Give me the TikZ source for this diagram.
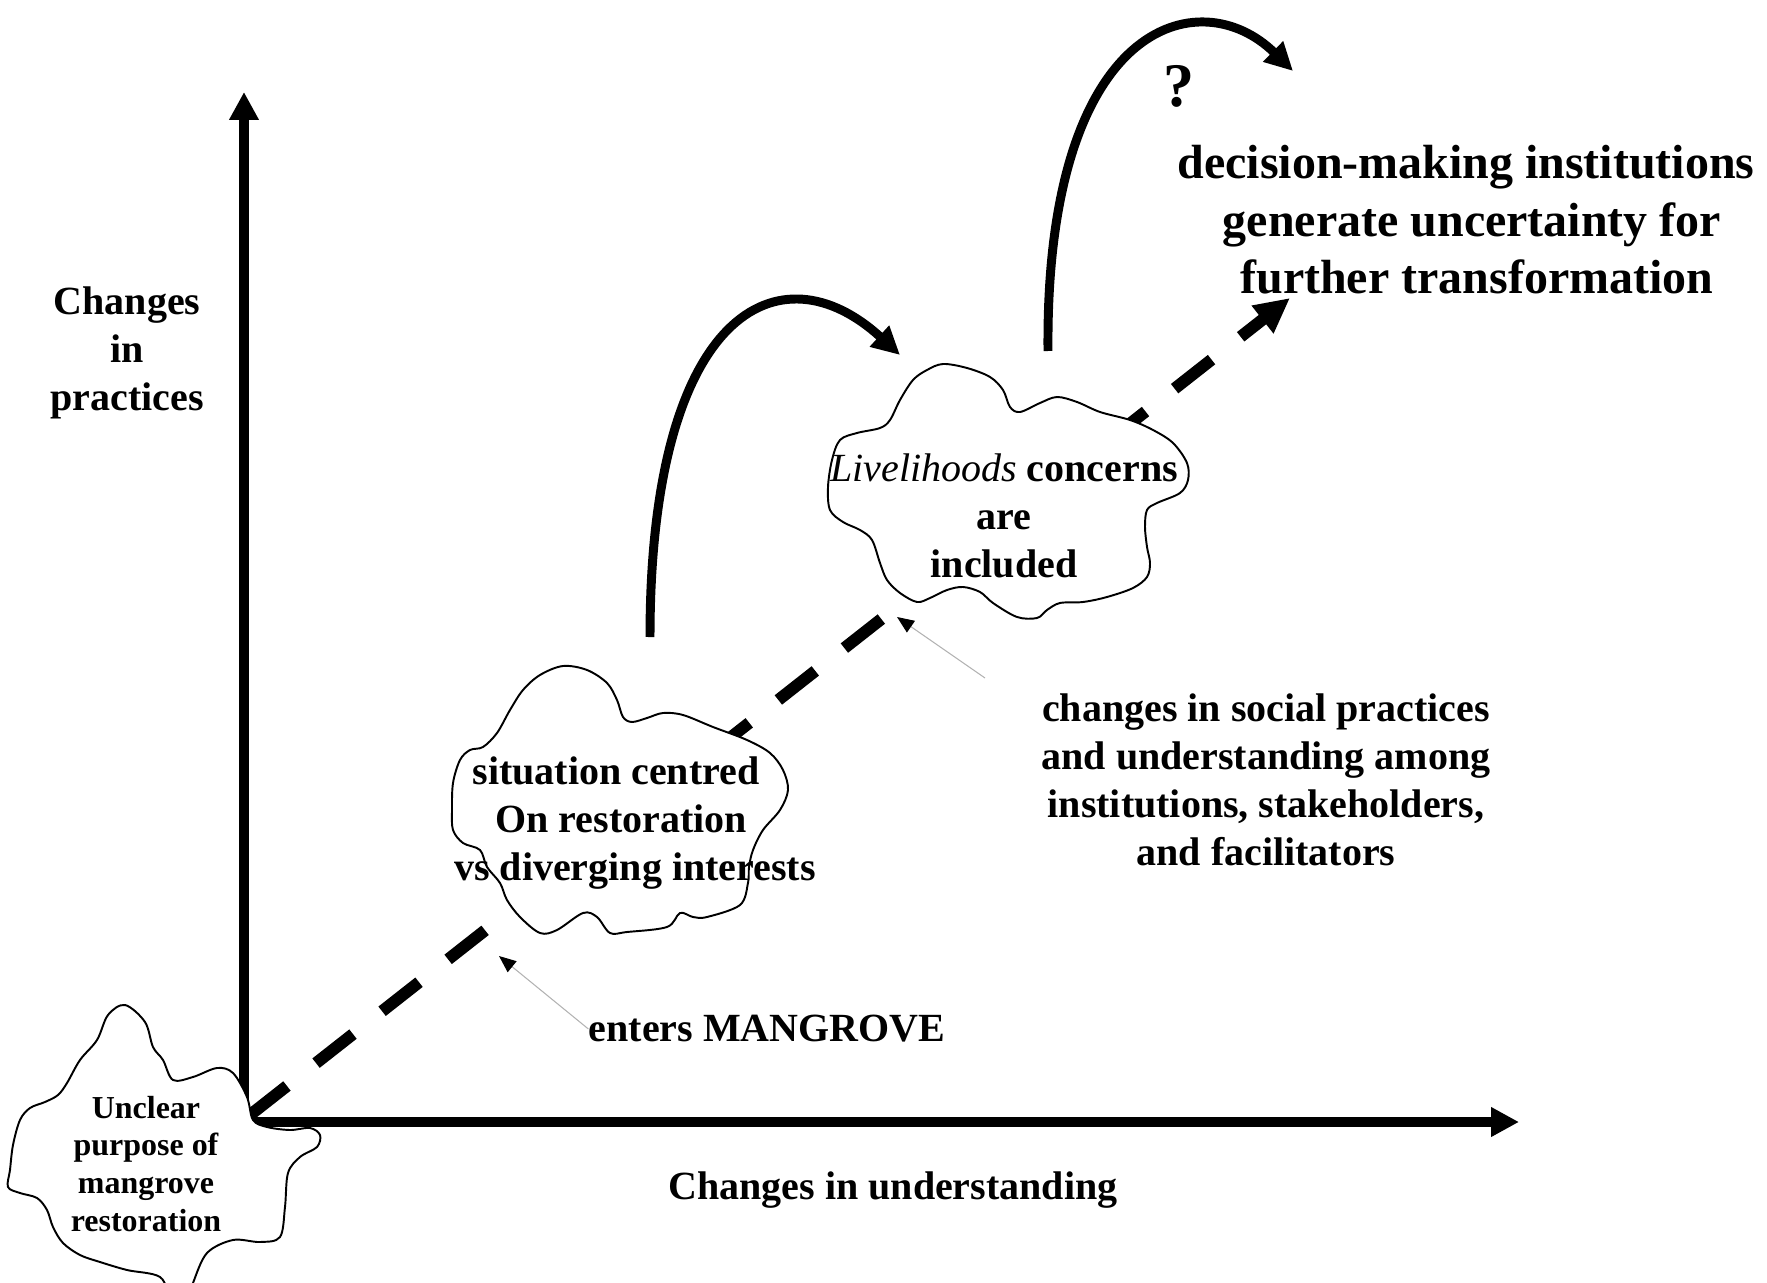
\documentclass[tikz,border=0pt]{standalone}
\usepackage{fontspec}
\setmainfont{Liberation Serif}
\usetikzlibrary{arrows.meta}
\tikzset{
  axisarrow/.style={line width=5.7pt, -{Triangle[length=0.56cm,width=0.56cm]}},
  pathdash/.style={line width=6.8pt, dash pattern=on 0.94cm off 0.74cm, -{Triangle[length=0.70cm,width=0.66cm]}},
  jump/.style={line width=5.1pt, -{Triangle[length=0.56cm,width=0.54cm]}},
  pointer/.style={draw=black!30, line width=0.6pt, -{Triangle[length=0.34cm,width=0.28cm,color=black]}},
  blob/.style={draw=black, line width=1.1pt, fill=white},
  lbl/.style={inner sep=0pt, align=center, font=\fontsize{22.76pt}{27.3pt}\selectfont\bfseries},
  biglbl/.style={inner sep=0pt, align=center, font=\fontsize{27.3pt}{32.7pt}\selectfont\bfseries},
  smalllbl/.style={inner sep=0pt, align=center, font=\fontsize{18.2pt}{21.6pt}\selectfont\bfseries},
  qlbl/.style={inner sep=0pt, font=\fontsize{35.3pt}{40pt}\selectfont\bfseries}
}
\begin{document}
\begin{tikzpicture}[x=0.02cm, y=-0.02cm]
\useasboundingbox (0,0) rectangle (1767,1283);

% axes
\coordinate (O) at (244,1122);
\coordinate (Ov) at (244,1127);
\coordinate (Oh) at (239,1122);
\coordinate (ytip) at (244,92);
\coordinate (xtip) at (1519,1122);
\draw[axisarrow] (Ov) -- (ytip);
\draw[axisarrow] (Oh) -- (xtip);

% dashed trajectory
\coordinate (dstart) at (250,1115);
\coordinate (dtip) at (1290,298);
\draw[pathdash] (dstart) -- (dtip);

% clouds
\draw[blob] plot[smooth cycle, tension=0.55] coordinates {
 (125,1005) (145,1022) (153,1047) (163,1060) (173,1080) (193,1077) (217,1068)
 (233,1073) (247,1097) (253,1120) (267,1127) (290,1130) (310,1128) (320,1135)
 (317,1147) (300,1157) (288,1173) (285,1207) (280,1237) (260,1242) (233,1240)
 (207,1253) (193,1283) (188,1300) (172,1300) (160,1277) (127,1270) (100,1262)
 (80,1255) (63,1243) (53,1227) (47,1210) (37,1198) (20,1193) (8,1187) (10,1170)
 (13,1145) (20,1120) (30,1108) (45,1102) (58,1095) (67,1083) (80,1060) (97,1040) (108,1015)};

\draw[blob] plot[smooth cycle, tension=0.55] coordinates {
 (540,675) (563,666) (587,670) (607,683) (617,700) (623,717) (632,722) (647,718)
 (663,713) (683,715) (713,727) (747,740) (770,753) (783,770) (788,790) (780,810)
 (763,830) (753,850) (749,867) (748,883) (740,905) (707,917) (693,917) (680,913)
 (667,927) (627,932) (610,933) (597,917) (583,913) (557,930) (540,933) (520,917)
 (507,900) (500,883) (487,867) (480,850) (463,843) (453,830) (452,810) (453,783)
 (460,760) (470,750) (483,747) (497,733) (510,710) (523,690)};

\draw[blob] plot[smooth cycle, tension=0.55] coordinates {
 (913,380) (927,370) (943,364) (967,368) (990,377) (1003,390) (1010,407) (1020,412)
 (1040,403) (1057,397) (1077,402) (1100,412) (1130,420) (1153,430) (1173,443)
 (1187,463) (1188,480) (1180,493) (1157,503) (1147,510) (1145,527) (1147,547)
 (1150,563) (1147,577) (1133,588) (1107,597) (1083,602) (1060,603) (1047,610)
 (1037,618) (1017,617) (993,603) (980,592) (963,587) (947,590) (930,598) (917,602)
 (900,593) (887,580) (880,563) (872,540) (860,530) (843,522) (830,510) (828,487)
 (832,460) (840,440) (857,433) (880,428) (890,420) (900,400)};

% texts
\node[smalllbl] (unclear) at (146,1164) {Unclear\\purpose of\\mangrove\\restoration};
\node[lbl] (situation) at (635,823) {situation centred\rule{0.95em}{0pt}\\On restoration\rule{0.7em}{0pt}\\vs diverging interests};
\node[lbl] (livelihoods) at (1004,516) {{\mdseries\itshape Livelihoods} concerns\\are\\included};
\node[biglbl] (decision) at (1466,220) {decision-making institutions\\\rule{0.25em}{0pt}generate uncertainty for\\\rule{0.45em}{0pt}further transformation};
\node[qlbl] (question) at (1179,86) {?};
\node[lbl] (practices) at (127,353) {Changes\\in\\practices};
\node[lbl] (understanding) at (893,1190) {Changes in understanding};
\node[lbl] (enters) at (767,1029) {enters MANGROVE};
\node[lbl] (social) at (1266,780) {changes in social practices\\and understanding among\\institutions, stakeholders,\\and facilitators};

% curved jumps
\coordinate (a0) at (650,637);
\coordinate (a1) at (900,355);
\draw[jump] (a0) .. controls (650,310) and (780,245) .. (a1);
\coordinate (b0) at (1048,351);
\coordinate (b1) at (1293,71);
\draw[jump] (b0) .. controls (1045,20) and (1200,-20) .. (b1);

% thin pointers
\coordinate (p1) at (499,956);
\draw[pointer] (enters.west) -- (p1);
\coordinate (q0) at (985,678);
\coordinate (p2) at (897,617);
\draw[pointer] (q0) -- (p2);
\end{tikzpicture}
\end{document}
